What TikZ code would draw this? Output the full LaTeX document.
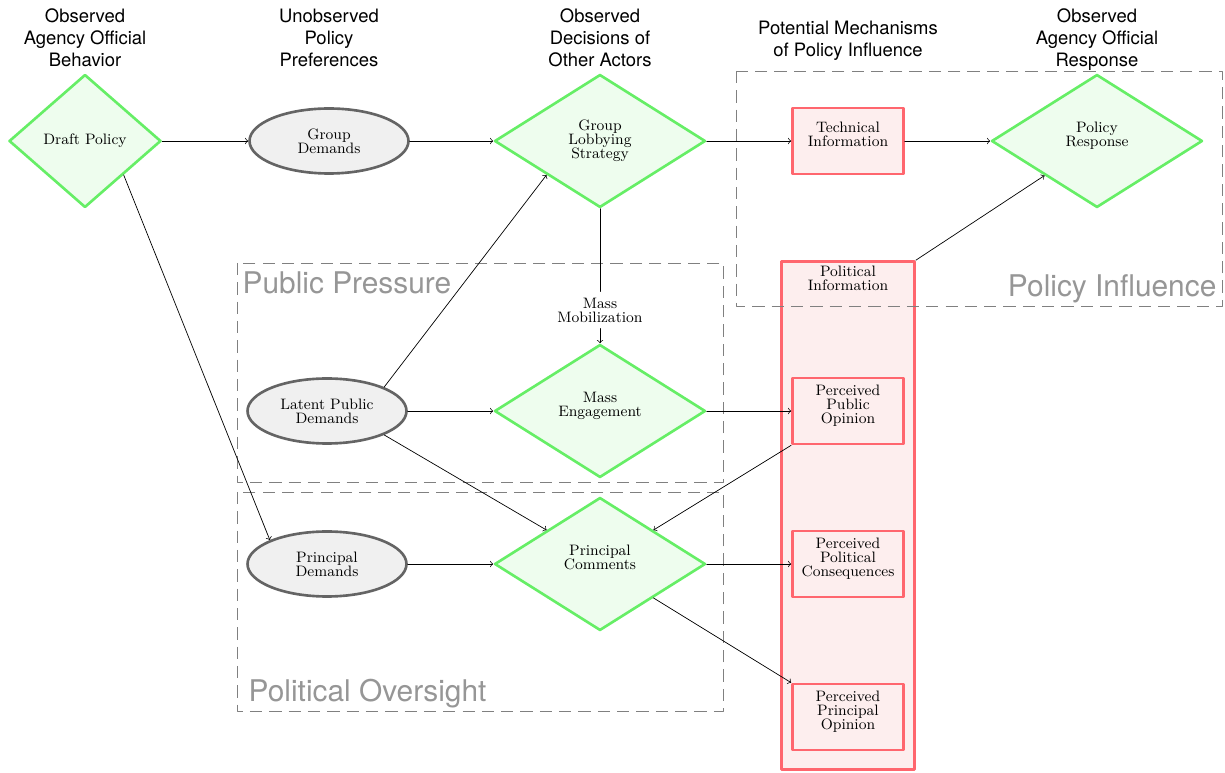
\documentclass[tikz,border=0pt]{standalone}
\usepackage{fontspec}
\newfontfamily\headfont{TeX Gyre Heros}
\usetikzlibrary{arrows}
\usetikzlibrary{positioning}
\usetikzlibrary{shapes.geometric}
\definecolor{obsgreen}{RGB}{102,238,102}
\definecolor{obsfill}{RGB}{238,253,238}
\definecolor{mechred}{RGB}{255,102,110}
\definecolor{mechfill}{RGB}{253,238,238}
\definecolor{latgray}{RGB}{100,100,100}
\definecolor{latfill}{RGB}{240,240,240}
\definecolor{boxgray}{RGB}{128,128,128}
\definecolor{labgray}{RGB}{150,150,150}
\newcommand{\nodefont}{\fontsize{8.6}{8}\selectfont}

\begin{document}
\begin{tikzpicture}[line cap=round,line join=round,x=0.02cm,y=-0.02cm,
  observed/.style={diamond,draw=obsgreen,fill=obsfill,line width=1.5pt,inner sep=0pt,align=center,font=\nodefont,minimum width=4.22cm,minimum height=2.66cm},
  unobserved/.style={ellipse,draw=latgray,fill=latfill,line width=1.5pt,inner sep=0pt,align=center,font=\nodefont,minimum width=3.18cm,minimum height=1.3cm},
  mechanism/.style={rectangle,draw=mechred,fill=mechfill,line width=1.5pt,inner sep=0pt,align=center,font=\nodefont,minimum width=2.22cm,minimum height=1.32cm},
  groupbox/.style={draw=boxgray,dashed,dash pattern=on 7pt off 4pt,line cap=butt},
  grouplabel/.style={text=labgray,font=\headfont\fontsize{17}{20}\selectfont,inner sep=3pt},
  header/.style={align=center,font=\headfont\fontsize{10.5}{12.5}\selectfont}]
\useasboundingbox (0,0) rectangle (1225,773);

% column headers
\node[header] (h1) at (85,38) {Observed\\Agency Official\\Behavior};
\node[header] (h2) at (329,38) {Unobserved\\Policy\\Preferences};
\node[header] (h3) at (600,38) {Observed\\Decisions of\\Other Actors};
\node[header] (h4) at (848,41) {Potential Mechanisms\\of Policy Influence};
\node[header] (h5) at (1097,40) {Observed\\Agency Official\\Response};

% political information column
\node[rectangle,draw=mechred,fill=mechfill,line width=1.5pt,minimum width=2.66cm,minimum height=10.16cm,
  label={[anchor=north,align=center,font=\nodefont]north:Political\\Information}] (polinfo) at (848,515.5) {};

% groups
\draw[groupbox] (736,71) rectangle (1222,306);
\node[grouplabel,anchor=base east] (lpolicy) at (1222,297) {Policy Influence};
\draw[groupbox] (237,263) rectangle (723,482);
\node[grouplabel,anchor=base west] (lpublic) at (237,294) {Public Pressure};
\draw[groupbox] (237,492) rectangle (723,711);
\node[grouplabel,anchor=base west] (loversight) at (243,702) {Political Oversight};

% nodes
\node[observed,minimum width=3.04cm] (draft) at (85,141) {Draft Policy};
\node[unobserved] (groupdem) at (329,141) {Group\\Demands};
\node[observed] (lobby) at (600,141) {Group\\Lobbying\\Strategy};
\node[mechanism] (techinfo) at (848,141) {Technical\\Information\\~};
\node[observed] (response) at (1097,141) {Policy\\Response\\~};

\node[unobserved] (latent) at (327,411) {Latent Public\\Demands};
\node[font=\nodefont,align=center] (mobil) at (600,310) {Mass\\Mobilization};
\node[observed] (mass) at (600,411) {Mass\\Engagement\\~};
\node[mechanism] (pubop) at (848,411) {Perceived\\Public\\Opinion\\~};

\node[unobserved] (prindem) at (327,564) {Principal\\Demands};
\node[observed] (princom) at (600,564) {Principal\\Comments\\~};
\node[mechanism] (polcons) at (848,564) {Perceived\\Political\\Consequences\\~};
\node[mechanism] (prinop) at (848,717) {Perceived\\Principal\\Opinion\\~};

% connectors
\draw[->] (draft) -- (groupdem);
\draw[->] (groupdem) -- (lobby);
\draw[->] (lobby) -- (techinfo);
\draw[->] (techinfo) -- (response);
\draw[->] (polinfo.north east) -- (response);
\draw[->] (draft.south east) -- (prindem.north west);
\draw[->] (latent.north east) -- (lobby.south west);
\draw (lobby) -- (mobil);
\draw[->] (mobil) -- (mass);
\draw[->] (latent) -- (mass);
\draw[->] (mass) -- (pubop);
\draw[->] (latent.south east) -- (princom.north west);
\draw[->] (pubop.south west) -- (princom.north east);
\draw[->] (prindem) -- (princom);
\draw[->] (princom) -- (polcons);
\draw[->] (princom.south east) -- (prinop.north west);
\end{tikzpicture}
\end{document}
